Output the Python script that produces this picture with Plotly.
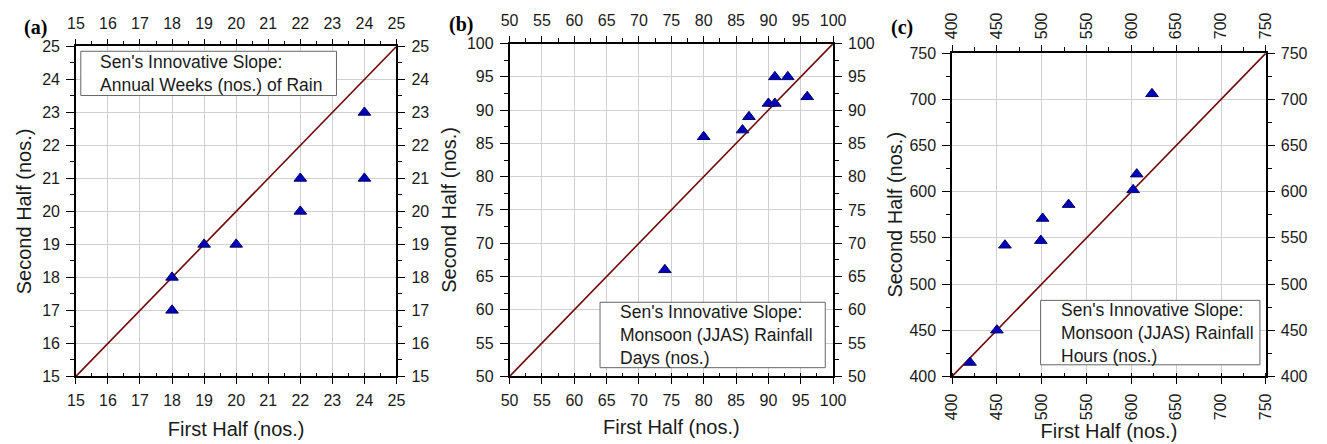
import plotly.graph_objects as go

# ---- data ----
a_first = [18, 18, 19, 20, 22, 22, 24, 24]
a_second = [18, 17, 19, 19, 21, 20, 23, 21]
a_line = [15, 25]

b_first = [74, 80, 86, 87, 90, 91, 91, 93, 96]
b_second = [66, 86, 87, 89, 91, 91, 95, 95, 92]
b_line = [50, 100]

c_first = [420, 450, 459, 499, 501, 530, 602, 606, 623]
c_second = [415, 450, 542, 547, 571, 586, 602, 619, 706]
c_line = [400, 750]

panel_labels = ["(a)", "(b)", "(c)"]
legend_texts = [
    "Sen's Innovative Slope:<br>Annual Weeks (nos.) of Rain",
    "Sen's Innovative Slope:<br>Monsoon (JJAS) Rainfall<br>Days (nos.)",
    "Sen's Innovative Slope:<br>Monsoon (JJAS) Rainfall<br>Hours (nos.)",
]
x_title = "First Half (nos.)"
y_title = "Second Half (nos.)"

W, H = 1327, 444
FONT = "Liberation Sans, Arial, sans-serif"
TXT = "#1a1a1a"

panels = [
    dict(first=a_first, second=a_second, line=a_line, dtick=1,
         px=(68, 394), py=(40, 383), angle=0, xst=14, yst=5,
         box=(73, 333, 45, 91), text_x=91),
    dict(first=b_first, second=b_second, line=b_line, dtick=5,
         px=(509, 838), py=(37, 383), angle=0, xst=12, yst=5,
         box=(601, 830, 306, 374), text_x=619),
    dict(first=c_first, second=c_second, line=c_line, dtick=50,
         px=(959, 1278), py=(47, 383), angle=-90, xst=5, yst=1,
         box=(1049, 1272, 304, 371), text_x=1068),
]

fig = go.Figure()
layout = dict(
    width=W, height=H,
    margin=dict(l=0, r=0, t=0, b=0),
    paper_bgcolor="white", plot_bgcolor="white",
    showlegend=False,
    font=dict(family=FONT, color=TXT, size=16),
    shapes=[], annotations=[],
)

def px2x(v):
    return v / W

def py2y(v):
    return 1 - v / H

for i, p in enumerate(panels):
    n = i + 1
    nt = i + 4
    rng = [p["line"][0], p["line"][1]]
    xd = [px2x(p["px"][0]), px2x(p["px"][1])]
    yd = [py2y(p["py"][1]), py2y(p["py"][0])]
    common = dict(
        range=rng, dtick=p["dtick"], tick0=rng[0],
        showline=True, linecolor="black", linewidth=1.5,
        ticks="outside", tickwidth=1.3, tickcolor="black",
        zeroline=False, ticklabelstandoff=3,
        tickfont=dict(family=FONT, size=16, color=TXT),
    )
    minor_out = dict(ticks="outside", ticklen=4, tickwidth=1.2, tickcolor="black",
                     dtick=p["dtick"] / 2, showgrid=False)
    # bottom x
    layout[f"xaxis{n}"] = dict(
        common, domain=xd, anchor=f"y{n}", side="bottom", ticklen=6,
        showgrid=True, gridcolor="#d0d0d0", gridwidth=1,
        tickangle=p["angle"],
        minor=dict(ticks="inside", ticklen=4, tickwidth=1.2, tickcolor="black",
                   dtick=p["dtick"] / 2, showgrid=False),
        title=dict(text=x_title, font=dict(family=FONT, size=20, color=TXT),
                   standoff=p["xst"]),
    )
    # left y
    layout[f"yaxis{n}"] = dict(
        common, domain=yd, anchor=f"x{n}", side="left", ticklen=8,
        showgrid=True, gridcolor="#d0d0d0", gridwidth=1,
        minor=minor_out,
        title=dict(text=y_title, font=dict(family=FONT, size=20, color=TXT),
                   standoff=p["yst"]),
    )
    # top x
    layout[f"xaxis{nt}"] = dict(
        common, overlaying=f"x{n}", anchor=f"y{nt}", side="top", ticklen=6,
        showgrid=False, tickangle=p["angle"], minor=minor_out,
    )
    # right y
    layout[f"yaxis{nt}"] = dict(
        common, overlaying=f"y{n}", anchor=f"x{nt}", side="right", ticklen=7,
        showgrid=False, minor=minor_out,
    )

    # diagonal 1:1 line
    fig.add_trace(go.Scatter(
        x=p["line"], y=p["line"], mode="lines",
        line=dict(color="#700a0a", width=1.6),
        xaxis=f"x{n}", yaxis=f"y{n}", hoverinfo="skip",
    ))
    # data points
    fig.add_trace(go.Scatter(
        x=p["first"], y=p["second"], mode="markers",
        marker=dict(symbol="triangle-up", size=11, color="#0000b8",
                    line=dict(color="#00006a", width=1)),
        xaxis=f"x{n}", yaxis=f"y{n}",
    ))
    # invisible trace to realise top/right axes
    fig.add_trace(go.Scatter(
        x=p["line"], y=p["line"], mode="lines", opacity=0,
        line=dict(width=0), xaxis=f"x{nt}", yaxis=f"y{nt}", hoverinfo="skip",
    ))

    # legend box
    x0, x1, y0, y1 = p["box"]
    layout["shapes"].append(dict(
        type="rect", xref="paper", yref="paper",
        x0=px2x(x0), x1=px2x(x1), y0=py2y(y1), y1=py2y(y0),
        line=dict(color="#666666", width=1), fillcolor="white", layer="above",
    ))
    layout["annotations"].append(dict(
        text=legend_texts[i], xref="paper", yref="paper",
        x=px2x(p["text_x"]), y=py2y((y0 + y1) / 2),
        xanchor="left", yanchor="middle", align="left", showarrow=False,
        font=dict(family=FONT, size=17.5, color=TXT),
    ))

# panel labels
label_pos = [(13, 20), (445, 17), (895, 20)]
for lab, (lx, ly) in zip(panel_labels, label_pos):
    layout["annotations"].append(dict(
        text=f"<b>{lab}</b>", xref="paper", yref="paper",
        x=px2x(lx), y=py2y(ly), xanchor="left", yanchor="middle",
        showarrow=False,
        font=dict(family="Liberation Serif, Times New Roman, serif", size=20, color="black"),
    ))

fig.update_layout(**layout)
fig.write_html("out.html")
